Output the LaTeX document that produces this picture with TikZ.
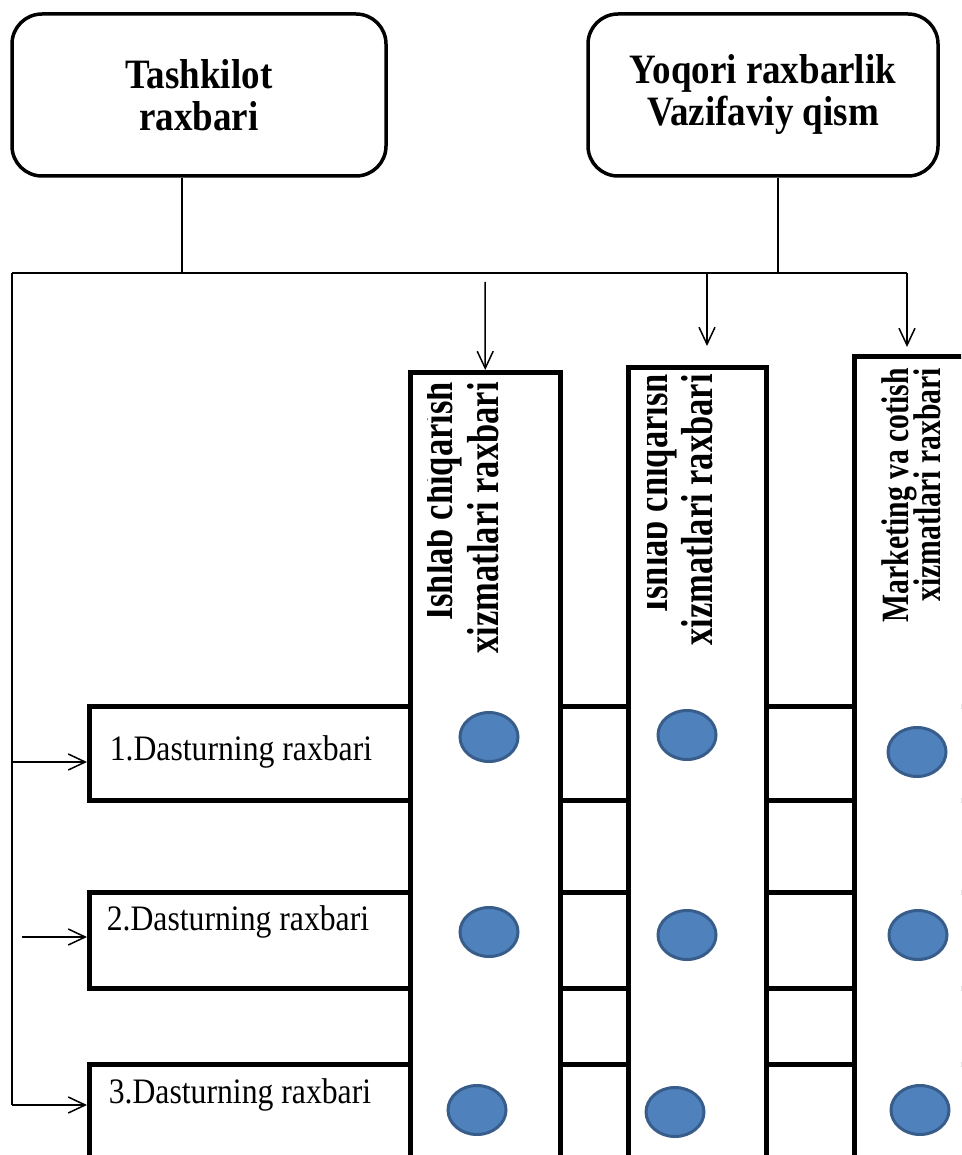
\documentclass[tikz,border=0pt]{standalone}
\usepackage{fontspec}
\setmainfont{LiberationSerif}[Extension=.ttf, UprightFont=*-Regular, BoldFont=*-Bold]
\usetikzlibrary{arrows.meta,shapes.geometric}
\definecolor{dotfill}{HTML}{4F81BD}
\definecolor{dotline}{HTML}{385D8A}
% vertically stretched lettering
\newcommand{\tallx}[1]{\scalebox{1}[1.3]{#1}}
\newcommand{\tallh}[1]{\scalebox{1}[1.13]{#1}}

\begin{document}
\begin{tikzpicture}[x=1pt,y=-1pt,
  topbox/.style={draw, line width=3.5pt, rounded corners=30pt, align=center,
    font=\bfseries\fontsize{37}{42}\selectfont, inner sep=0pt},
  band/.style={draw, line width=4.5pt, anchor=north west, inner sep=0pt},
  column/.style={draw, fill=white, line width=4.5pt, anchor=north west, inner sep=0pt},
  link/.style={line width=1.5pt},
  arr/.style={line width=1.5pt, -{Straight Barb[length=17pt,width=16pt,line width=1.5pt]}},
  dot/.style={ellipse, draw=dotline, fill=dotfill, line width=3pt,
    minimum width=58pt, minimum height=49pt, inner sep=0pt},
  rowtext/.style={font=\fontsize{31.7}{36}\selectfont, inner sep=0pt},
  coltext/.style={rotate=90, anchor=base east, inner sep=0pt,
    font=\bfseries\fontsize{34.5}{40}\selectfont},
  coltextsmall/.style={coltext, font=\bfseries\fontsize{29.7}{34}\selectfont},
]
\useasboundingbox (0,0) rectangle (961,1155);
\clip (0,0) rectangle (961,1155);

% top management boxes
\node[topbox, minimum width=374pt, minimum height=162pt] (tA) at (199,95) {\tallh{Tashkilot}\\\tallh{raxbari}};
\node[topbox, minimum width=350pt, minimum height=162pt] (tB) at (763,95) {\tallh{Yoqori raxbarlik}\\\tallh{Vazifaviy qism}};

% distribution bus
\coordinate (busL) at (12,273);
\coordinate (busR) at (907,273);
\coordinate (jA) at (182,273);
\coordinate (jB) at (778,273);
\coordinate (k1) at (485,282);
\coordinate (k2) at (707,273);
\draw[link] (jA |- tA.south) -- (jA);
\draw[link] (jB |- tB.south) -- (jB);
\draw[link] (busL) -- (busR);

% programme rows (bands run behind the columns)
\node[band, minimum width=900pt, minimum height=94pt] (r1) at (87,704) {};
\node[band, minimum width=900pt, minimum height=96pt] (r2) at (87,890) {};
\node[band, minimum width=900pt, minimum height=200pt] (r3) at (87,1062) {};

% functional columns
\node[column, minimum width=150pt, minimum height=850pt] (c1) at (408,370) {};
\node[column, minimum width=138pt, minimum height=850pt] (c2) at (626,365) {};
\node[column, minimum width=200pt, minimum height=850pt] (c3) at (852,354) {};

% column headings (the first line sits against a clipped edge)
\begin{scope}
  \clip (427.5,300) rectangle (560,700);
  \node[coltext] (h11) at (452,382) {\tallx{Ishlab chiqarish}};
\end{scope}
\node[coltext] (h12) at (498,382) {\tallx{xizmatlari raxbari}};
\begin{scope}
  \clip (647,300) rectangle (770,700);
  \node[coltext] (h21) at (667,374) {\tallx{Ishlab chiqarish}};
\end{scope}
\node[coltext] (h22) at (712,374) {\tallx{xizmatlari raxbari}};
\node[coltextsmall] (h31) at (908,368) {\tallx{Marketing va cotish}};
\node[coltextsmall] (h32) at (940,368) {\tallx{xizmatlari raxbari}};

% arrows into the columns
\draw[arr] (k1) -- (c1.north);
\draw[arr, shorten >=19pt] (k2) -- (k2 |- c2.north);
\draw[arr, shorten >=7pt] (busR) -- (busR |- c3.north);

% row labels
\node[rowtext] (t1) at (241,752) {\tallh{1.Dasturning raxbari}};
\node[rowtext] (t2) at (238,922) {\tallh{2.Dasturning raxbari}};
\node[rowtext] (t3) at (240,1095) {\tallh{3.Dasturning raxbari}};

% arrows into the rows
\coordinate (a1) at (12,762);
\coordinate (a2) at (22,937);
\coordinate (a3) at (12,1105);
\draw[link] (busL) -- (a3);
\draw[arr] (a1) -- (a1 -| r1.west);
\draw[arr] (a2) -- (a2 -| r2.west);
\draw[arr] (a3) -- (a3 -| r3.west);

% intersection markers
\node[dot] (d11) at (489,737) {};
\node[dot] (d12) at (687,735) {};
\node[dot] (d13) at (917,752) {};
\node[dot] (d21) at (489,932) {};
\node[dot] (d22) at (687,935) {};
\node[dot] (d23) at (918,935) {};
\node[dot] (d31) at (477,1110) {};
\node[dot] (d32) at (675,1112) {};
\node[dot] (d33) at (920,1110) {};
\end{tikzpicture}
\end{document}
